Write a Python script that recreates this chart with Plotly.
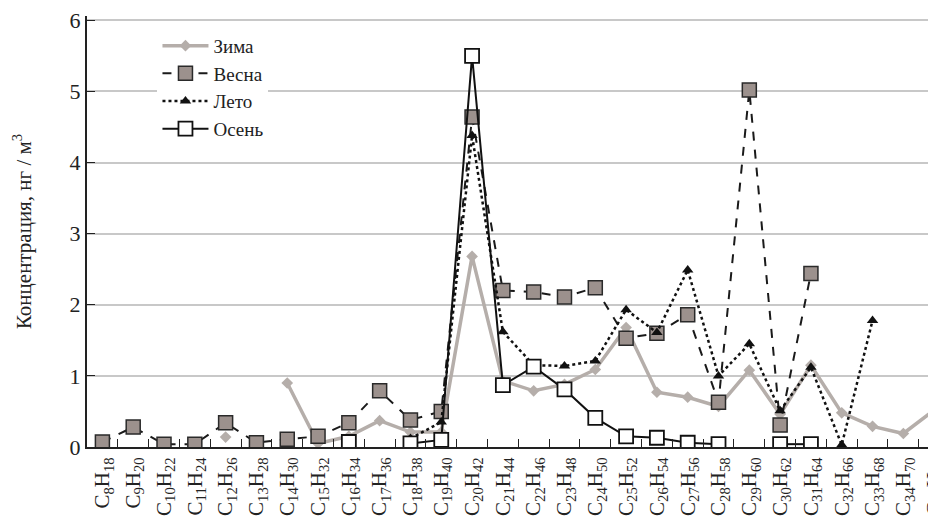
import plotly.graph_objects as go

categories = ["C<sub>%d</sub>H<sub>%d</sub>" % (n, 2 * n + 2) for n in range(8, 36)]

zima = [None, None, None, None, 0.14, None, 0.90, 0.05, 0.15, 0.37, 0.21, 0.21,
        2.68, 0.93, 0.79, 0.88, 1.09, 1.68, 0.77, 0.70, 0.57, 1.08, 0.46, 1.15,
        0.48, 0.29, 0.19, 0.52]
vesna = [0.07, 0.28, 0.04, 0.04, 0.34, 0.06, 0.11, 0.15, 0.34, 0.79, 0.38, 0.50,
         4.64, 2.20, 2.18, 2.11, 2.24, 1.53, 1.60, 1.86, 0.63, 5.02, 0.31, 2.44,
         None, None, None, None]
leto = [None, None, None, None, None, None, None, None, None, None, 0.12, 0.35,
        4.38, 1.62, 1.15, 1.14, 1.21, 1.93, 1.61, 2.49, 1.00, 1.45, 0.51, 1.12,
        0.03, 1.78, None, None]
osen = [None, None, None, None, None, None, None, None, 0.07, None, 0.05, 0.10,
        5.50, 0.87, 1.13, 0.81, 0.41, 0.15, 0.13, 0.06, 0.04, None, 0.04, 0.04,
        None, None, None, None]
y_ticks = [0, 1, 2, 3, 4, 5, 6]

FONT = "Liberation Serif"

fig = go.Figure()
fig.add_trace(go.Scatter(
    x=categories, y=zima, name="Зима", mode="lines+markers",
    line=dict(color="#b5aeaa", width=3.5),
    marker=dict(symbol="diamond", size=9, color="#b5aeaa"),
))
fig.add_trace(go.Scatter(
    x=categories, y=vesna, name="Весна", mode="lines+markers",
    line=dict(color="#1a1a1a", width=2, dash="dash"),
    marker=dict(symbol="square", size=14, color="#9c918d",
                line=dict(color="#2a2a2a", width=1.5)),
))
fig.add_trace(go.Scatter(
    x=categories, y=leto, name="Лето", mode="lines+markers",
    line=dict(color="#111111", width=2.5, dash="dot"),
    marker=dict(symbol="triangle-up", size=10, color="#111111"),
))
fig.add_trace(go.Scatter(
    x=categories, y=osen, name="Осень", mode="lines+markers",
    line=dict(color="#111111", width=2),
    marker=dict(symbol="square", size=14, color="white",
                line=dict(color="#111111", width=1.8)),
))

fig.update_layout(
    width=928, height=514,
    margin=dict(l=79, r=0, t=8, b=75),
    plot_bgcolor="white", paper_bgcolor="white",
    font=dict(family=FONT, size=19, color="#222222"),
    showlegend=True,
    legend=dict(x=0.083, y=0.975, xanchor="left", yanchor="top",
                bgcolor="white", font=dict(family=FONT, size=19),
                itemwidth=46, tracegroupgap=0),
    xaxis=dict(
        type="category", categoryorder="array", categoryarray=categories,
        range=[-0.5, 27.06], tickangle=-90,
        showgrid=False, showline=True, linecolor="#222222", linewidth=2,
        ticks="inside", ticklen=8, tickcolor="#222222", tickson="boundaries",
        tickfont=dict(family=FONT, size=21), automargin=False, zeroline=False,
    ),
    yaxis=dict(
        range=[0, 6.06], tickvals=y_ticks, ticktext=[str(v) for v in y_ticks],
        showgrid=True, gridcolor="#c8c8c8", gridwidth=1.5,
        showline=True, linecolor="#222222", linewidth=2,
        ticks="inside", ticklen=8, tickcolor="#222222",
        tickfont=dict(family=FONT, size=22), zeroline=False,
        ticklabeloverflow="allow",
        title=dict(text="Концентрация, нг / м<sup>3</sup>", font=dict(family=FONT, size=21), standoff=32),
        automargin=False,
    ),
)

fig.write_html("out.html")
